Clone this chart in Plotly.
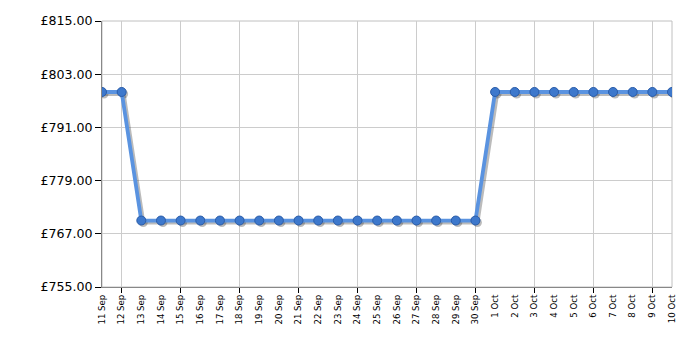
import plotly.graph_objects as go

dates = ["11 Sep", "12 Sep", "13 Sep", "14 Sep", "15 Sep", "16 Sep", "17 Sep", "18 Sep",
         "19 Sep", "20 Sep", "21 Sep", "22 Sep", "23 Sep", "24 Sep", "25 Sep", "26 Sep",
         "27 Sep", "28 Sep", "29 Sep", "30 Sep", "1 Oct", "2 Oct", "3 Oct", "4 Oct",
         "5 Oct", "6 Oct", "7 Oct", "8 Oct", "9 Oct", "10 Oct"]
prices = [798.99, 798.99, 769.99, 769.99, 769.99, 769.99, 769.99, 769.99,
          769.99, 769.99, 769.99, 769.99, 769.99, 769.99, 769.99, 769.99,
          769.99, 769.99, 769.99, 769.99, 798.99, 798.99, 798.99, 798.99,
          798.99, 798.99, 798.99, 798.99, 798.99, 798.99]
y_ticks = [755, 767, 779, 791, 803, 815]
y_labels = ["£755.00", "£767.00", "£779.00", "£791.00", "£803.00", "£815.00"]

idx = list(range(len(dates)))
grid_idx = idx[1::3]

fig = go.Figure()
# shadow (main, shifted, invisible axes)
fig.add_trace(go.Scatter(
    x=idx, y=prices, mode="lines+markers", xaxis="x", yaxis="y",
    line=dict(color="rgba(60,60,60,0.35)", width=4),
    marker=dict(size=9, color="rgba(60,60,60,0.35)"),
    hoverinfo="skip", showlegend=False))
# dummy on grid axis
fig.add_trace(go.Scatter(x=[], y=[], xaxis="x2", yaxis="y2", showlegend=False))
# main series
fig.add_trace(go.Scatter(
    x=idx, y=prices, mode="lines+markers", xaxis="x3", yaxis="y2",
    line=dict(color="#5a93e0", width=3.8),
    marker=dict(size=9, color="#3d78cc", line=dict(color="#2a5ca8", width=1)),
    showlegend=False))

n = len(dates) - 1
dx = 0.1
dy = 0.45
fig.update_layout(
    width=700, height=350,
    margin=dict(l=102, r=28, t=21, b=63),
    paper_bgcolor="white", plot_bgcolor="white",
    font=dict(family="DejaVu Sans", color="#000"),
    xaxis=dict(range=[-dx, n - dx], visible=False, fixedrange=True),
    yaxis=dict(range=[755 + dy, 815 + dy], visible=False, fixedrange=True),
    xaxis2=dict(overlaying="x", anchor="y2", range=[0, n], tickmode="array",
                tickvals=grid_idx, showticklabels=False, ticks="outside", ticklen=5,
                tickcolor="#000", showgrid=True, gridcolor="#cccccc", gridwidth=1,
                showline=True, linecolor="#888888", linewidth=1, zeroline=False),
    xaxis3=dict(overlaying="x", anchor="y2", range=[0, n], tickmode="array",
                tickvals=idx, ticktext=dates, tickangle=-90, ticks="", ticklen=0,
                ticklabelstandoff=5,
                showgrid=False, zeroline=False, showline=False,
                tickfont=dict(size=8.6, color="#000")),
    yaxis2=dict(overlaying="y", anchor="x2", range=[755, 815], tickmode="array",
                tickvals=y_ticks, ticktext=y_labels, ticks="outside", ticklen=6,
                tickcolor="#000", showgrid=True, gridcolor="#cccccc", gridwidth=1,
                showline=True, linecolor="#888888", linewidth=1, zeroline=False,
                tickfont=dict(size=12.6, color="#000")),
    shapes=[dict(type="rect", xref="paper", yref="paper", x0=0, x1=1, y0=0, y1=1,
                 line=dict(color="#c0c0c0", width=1), layer="below")],
)
fig.write_html("out.html")
